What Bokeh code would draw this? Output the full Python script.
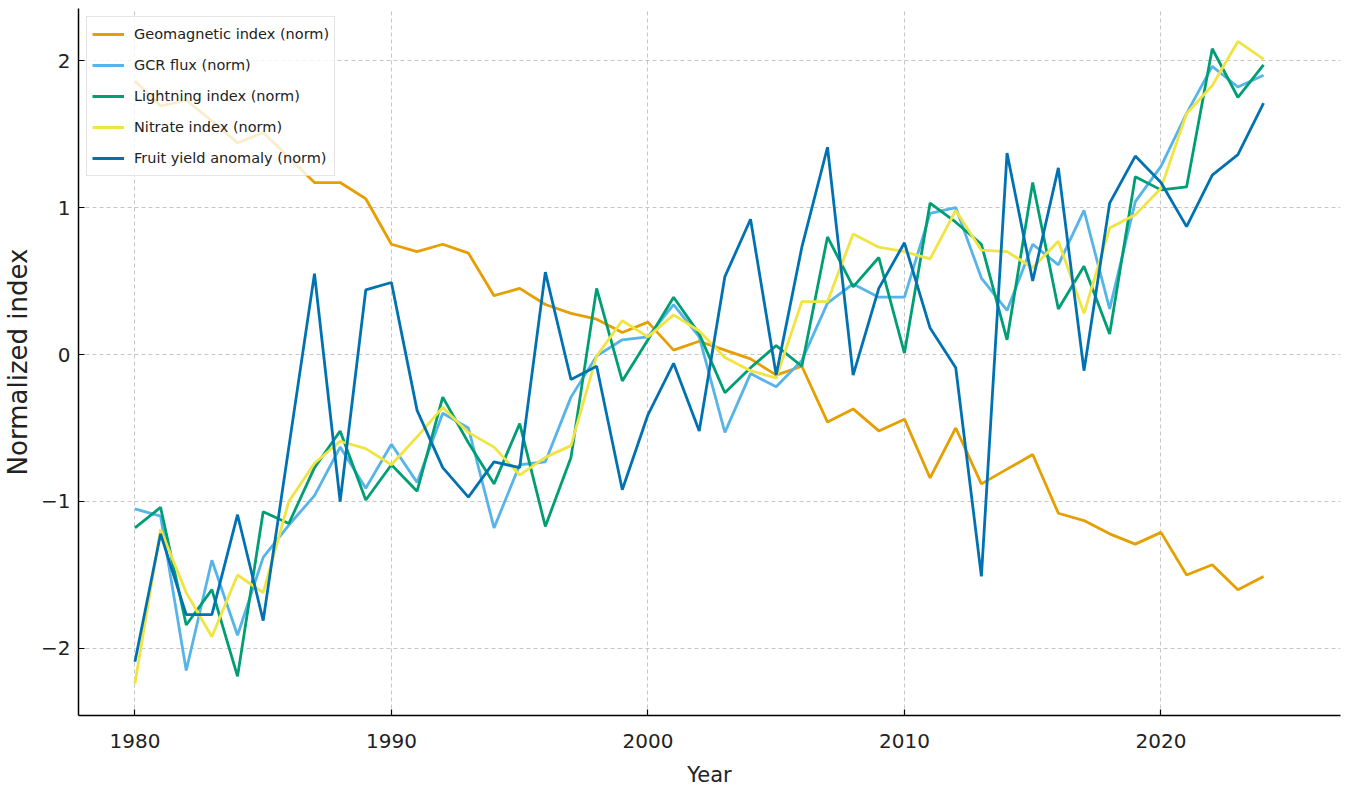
from bokeh.plotting import figure
from bokeh.models import Range1d, FixedTicker, Legend, LegendItem
from bokeh.embed import file_html
from bokeh.resources import INLINE

years = list(range(1980, 2025))

geomagnetic = [1.86, 1.69, 1.73, 1.59, 1.44, 1.51, 1.34, 1.17, 1.17, 1.06,
               0.75, 0.70, 0.75, 0.69, 0.40, 0.45, 0.34, 0.28, 0.24, 0.15,
               0.22, 0.03, 0.09, 0.03, -0.03, -0.14, -0.08, -0.46, -0.37, -0.52,
               -0.44, -0.84, -0.50, -0.88, -0.78, -0.68, -1.08, -1.13, -1.22, -1.29,
               -1.21, -1.50, -1.43, -1.60, -1.51]

gcr_flux = [-1.05, -1.10, -2.15, -1.40, -1.91, -1.38, -1.16, -0.96, -0.63, -0.91,
            -0.61, -0.87, -0.40, -0.50, -1.18, -0.75, -0.73, -0.29, -0.01, 0.10,
            0.12, 0.34, 0.12, -0.53, -0.13, -0.22, -0.04, 0.35, 0.48, 0.39,
            0.39, 0.96, 1.00, 0.52, 0.30, 0.75, 0.61, 0.98, 0.31, 1.04,
            1.28, 1.64, 1.96, 1.82, 1.90]

lightning = [-1.18, -1.04, -1.84, -1.60, -2.19, -1.07, -1.15, -0.77, -0.52, -0.99,
             -0.75, -0.93, -0.29, -0.60, -0.88, -0.47, -1.17, -0.70, 0.45, -0.18,
             0.10, 0.39, 0.14, -0.26, -0.09, 0.06, -0.08, 0.80, 0.46, 0.66,
             0.01, 1.03, 0.90, 0.75, 0.10, 1.17, 0.31, 0.60, 0.14, 1.21,
             1.12, 1.14, 2.08, 1.75, 1.97]

nitrate = [-2.24, -1.19, -1.62, -1.92, -1.50, -1.62, -1.00, -0.74, -0.59, -0.64,
           -0.75, -0.56, -0.36, -0.53, -0.63, -0.82, -0.70, -0.62, -0.01, 0.23,
           0.12, 0.27, 0.16, -0.02, -0.11, -0.16, 0.36, 0.36, 0.82, 0.73,
           0.70, 0.65, 0.98, 0.71, 0.70, 0.59, 0.77, 0.28, 0.86, 0.95,
           1.13, 1.64, 1.83, 2.13, 2.01]

fruit_yield = [-2.09, -1.22, -1.77, -1.77, -1.09, -1.81, -0.63, 0.55, -1.00, 0.44,
               0.49, -0.38, -0.77, -0.97, -0.73, -0.77, 0.56, -0.17, -0.08, -0.92,
               -0.41, -0.06, -0.52, 0.53, 0.92, -0.14, 0.73, 1.41, -0.14, 0.45,
               0.76, 0.18, -0.09, -1.51, 1.37, 0.50, 1.27, -0.11, 1.03, 1.35,
               1.17, 0.87, 1.22, 1.36, 1.71]

series_names = ["Geomagnetic index (norm)", "GCR flux (norm)", "Lightning index (norm)",
                "Nitrate index (norm)", "Fruit yield anomaly (norm)"]
series_values = [geomagnetic, gcr_flux, lightning, nitrate, fruit_yield]
series_colors = ["#E69F00", "#56B4E9", "#009E73", "#F0E442", "#0072B2"]

x_ticks = [1980, 1990, 2000, 2010, 2020]
y_ticks = [-2, -1, 0, 1, 2]
y_tick_labels = {-2: "\u22122", -1: "\u22121", 0: "0", 1: "1", 2: "2"}

FONT = "DejaVu Sans"

p = figure(width=1344, height=790, output_backend="svg", toolbar_location=None,
           x_range=Range1d(1977.8, 2027.0), y_range=Range1d(-2.456, 2.354),
           min_border_left=75, min_border_right=4, min_border_top=8, min_border_bottom=75)
p.outline_line_color = None
p.background_fill_color = "white"

items = []
for name, vals, col in zip(series_names, series_values, series_colors):
    r = p.line(years, vals, line_color=col, line_width=2.8)
    items.append(LegendItem(label=name, renderers=[r]))

legend = Legend(items=items, location="top_left")
legend.margin = 8
legend.padding = 5
legend.spacing = 7
legend.glyph_width = 32
legend.glyph_height = 24
legend.label_height = 24
legend.label_standoff = 10
legend.label_text_font = FONT
legend.label_text_font_size = "14.5px"
legend.label_text_color = "#222222"
legend.border_line_color = "#cccccc"
legend.border_line_width = 1
legend.background_fill_alpha = 0.8
p.add_layout(legend)

for ax in (p.xaxis, p.yaxis):
    ax.axis_line_color = "black"
    ax.axis_line_width = 1.5
    ax.major_tick_line_color = "black"
    ax.major_tick_line_width = 1.2
    ax.major_tick_out = 0
    ax.major_tick_in = 6
    ax.minor_tick_line_color = None
    ax.major_label_text_font = FONT
    ax.major_label_text_font_size = "20px"
    ax.major_label_text_color = "#222222"
    ax.axis_label_text_font = FONT
    ax.axis_label_text_font_style = "normal"
    ax.axis_label_text_color = "#222222"

p.xaxis.axis_label_text_font_size = "21px"
p.yaxis.axis_label_text_font_size = "26px"
p.xaxis.ticker = FixedTicker(ticks=x_ticks)
p.yaxis.ticker = FixedTicker(ticks=y_ticks)
p.yaxis.major_label_overrides = y_tick_labels
p.xaxis.axis_label = "Year"
p.yaxis.axis_label = "Normalized index"
p.xaxis.major_label_standoff = 18
p.yaxis.major_label_standoff = 8
p.xaxis.axis_label_standoff = 12
p.yaxis.axis_label_standoff = 5

for g in (p.xgrid, p.ygrid):
    g.grid_line_color = "#b8b8b8"
    g.grid_line_dash = "4 3"
    g.grid_line_width = 1
    g.grid_line_alpha = 0.8

open("out.html", "w").write(file_html(p, INLINE))
